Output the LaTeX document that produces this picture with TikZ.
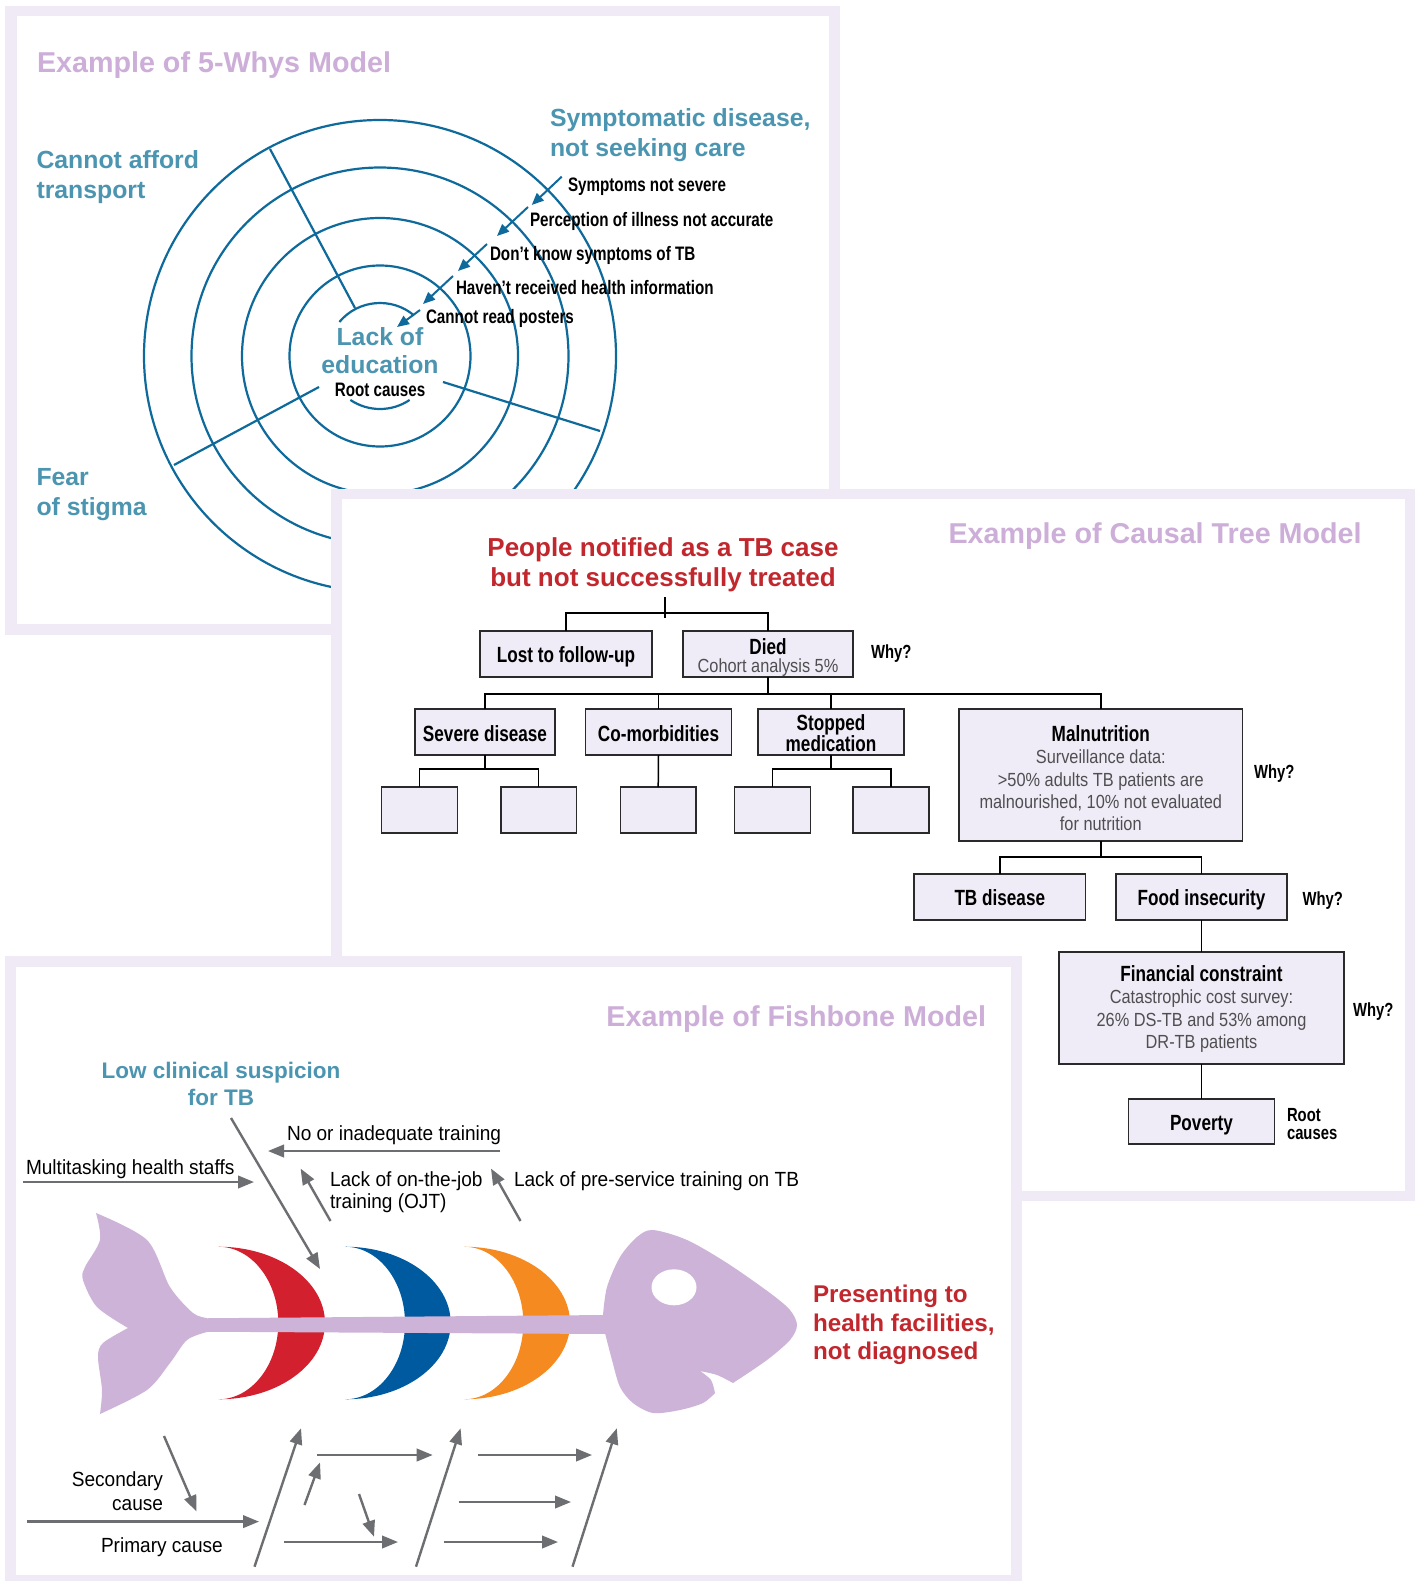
\documentclass[tikz,border=0pt]{standalone}
\usepackage{fontspec}
\setmainfont{Liberation Sans}
\newfontfamily\cnd{Liberation Sans}[FakeStretch=0.78]
\newfontfamily\cndm{Liberation Sans}[FakeStretch=0.86]
\newfontfamily\cndr{Liberation Sans}[FakeStretch=0.93]
\usetikzlibrary{arrows.meta}
\definecolor{frame}{HTML}{F0EAF6}
\definecolor{lilac}{HTML}{CDAED8}
\definecolor{tealc}{HTML}{4B95B1}
\definecolor{circc}{HTML}{0F6A9C}
\definecolor{redt}{HTML}{C1272D}
\definecolor{boxfill}{HTML}{F0ECF7}
\definecolor{boxline}{HTML}{2A2A2A}
\definecolor{greyt}{HTML}{4F4F51}
\definecolor{arrg}{HTML}{6D6E71}
\definecolor{fishc}{HTML}{CDB3D8}
\definecolor{ribr}{HTML}{D2202F}
\definecolor{ribb}{HTML}{005A9F}
\definecolor{ribo}{HTML}{F48A20}
\begin{document}
\begin{tikzpicture}[x=1pt,y=-1pt,
  every node/.style={inner sep=0pt, outer sep=0pt},
  ttl/.style={text=lilac, font=\bfseries\fontsize{28.7}{34}\selectfont},
  tealt/.style={text=tealc, font=\bfseries\fontsize{24.8}{30}\selectfont},
  redtt/.style={text=redt, font=\bfseries\fontsize{26}{31}\selectfont},
  whyl/.style={font=\cnd\bfseries\fontsize{19.5}{22}\selectfont},
  circ/.style={draw=circc, line width=2.2pt},
  warr/.style={draw=circc, line width=2pt, -{Triangle[length=12pt,width=10pt]}},
  box/.style={draw=boxline, fill=boxfill, line width=1.6pt},
  bt/.style={font=\cnd\bfseries\fontsize{22}{24}\selectfont},
  gt/.style={text=greyt, font=\cndm\fontsize{19}{22}\selectfont},
  wy/.style={font=\cnd\bfseries\fontsize{19}{22}\selectfont},
  conn/.style={draw=black, line width=1.5pt},
  garr/.style={draw=arrg, line width=2.4pt, -{Triangle[length=16pt,width=12.5pt]}},
  ft/.style={font=\cndr\fontsize{20.5}{24}\selectfont},
  fish/.style={fill=fishc}
]
\useasboundingbox (0,0) rectangle (1419,1581);
\fill[white] (0,0) rectangle (1419,1581);

% ================= Panel 1 : 5 whys =================
\fill[frame] (5,6) rectangle (840,635);
\fill[white] (17,16) rectangle (829,624);
\node[ttl, anchor=base west] (t1) at (37,72.5) {Example of 5-Whys Model};

\coordinate (cc) at (380,356);
\draw[circ] (cc) circle[radius=236];
\draw[circ] (cc) circle[radius=188.5];
\draw[circ] (cc) circle[radius=138];
\draw[circ] (cc) circle[radius=90.5];
\draw[circ] (cc) ++(-140:53) arc[start angle=-140,end angle=-50,radius=53];
\draw[circ] (cc) ++(124:53) arc[start angle=124,end angle=56,radius=53];

\coordinate (r1a) at (270,149); \coordinate (r1b) at (355,308);
\coordinate (r2a) at (174,465); \coordinate (r2b) at (319,387);
\coordinate (r3a) at (600,431); \coordinate (r3b) at (443,382);
\draw[circ] (r1a) -- (r1b);
\draw[circ] (r2a) -- (r2b);
\draw[circ] (r3a) -- (r3b);

\node[tealt, anchor=base west] (ca1) at (36.5,168) {Cannot afford};
\node[tealt, anchor=base west] (ca2) at (36.5,198) {transport};
\node[tealt, anchor=base west] (fs1) at (36.5,485) {Fear};
\node[tealt, anchor=base west] (fs2) at (36.5,515) {of stigma};
\node[tealt, anchor=base west] (sd1) at (550,126.7) {Symptomatic disease,};
\node[tealt, anchor=base west] (sd2) at (550,156.5) {not seeking care};
\node[tealt, anchor=base] (le1) at (380,345) {Lack of};
\node[tealt, anchor=base] (le2) at (380,373.5) {education};
\node[whyl, anchor=base] (rc) at (380,396) {Root causes};

\node[whyl, anchor=base west] (w1t) at (568,191.7) {Symptoms not severe};
\node[whyl, anchor=base west] (w2t) at (530,226) {Perception of illness not accurate};
\node[whyl, anchor=base west] (w3t) at (490,260.5) {Don’t know symptoms of TB};
\node[whyl, anchor=base west] (w4t) at (456,294.5) {Haven’t received health information};
\node[whyl, anchor=base west] (w5t) at (426,323) {Cannot read posters};

\coordinate (w1a) at (561.7,176.7); \coordinate (w1b) at (531.7,205);
\coordinate (w2a) at (528,207);     \coordinate (w2b) at (497,236);
\coordinate (w3a) at (487,244);     \coordinate (w3b) at (458,271);
\coordinate (w4a) at (453,276);     \coordinate (w4b) at (423,304);
\coordinate (w5a) at (420,310);     \coordinate (w5b) at (397,327);
\draw[warr] (w1a) -- (w1b);
\draw[warr] (w2a) -- (w2b);
\draw[warr] (w3a) -- (w3b);
\draw[warr] (w4a) -- (w4b);
\draw[warr] (w5a) -- (w5b);

% ================= Panel 2 : causal tree =================
\fill[frame] (331,489) rectangle (1415,1201);
\fill[white] (342,499) rectangle (1405,1191);
\node[ttl, anchor=base west] (t2) at (948.5,543.3) {Example of Causal Tree Model};
\node[redtt, anchor=base] (pn1) at (663,556) {People notified as a TB case};
\node[redtt, anchor=base] (pn2) at (663,586.7) {but not successfully treated};

\node[box, minimum width=171.7pt, minimum height=45.7pt] (lost) at (565.9,653.9) {};
\node[box, minimum width=170pt, minimum height=46pt] (died) at (768,654) {};
\node[box, minimum width=140pt, minimum height=46pt] (severe) at (485,732) {};
\node[box, minimum width=146pt, minimum height=46pt] (comorb) at (658.5,732) {};
\node[box, minimum width=146pt, minimum height=46pt] (stopped) at (831,732) {};
\node[box, minimum width=283.6pt, minimum height=132pt] (maln) at (1100.8,775) {};
\node[box, minimum width=75.8pt, minimum height=46pt] (e1) at (419.5,810) {};
\node[box, minimum width=75.8pt, minimum height=46pt] (e2) at (538.7,810) {};
\node[box, minimum width=75.8pt, minimum height=46pt] (e3) at (658.2,810) {};
\node[box, minimum width=75.8pt, minimum height=46pt] (e4) at (772.5,810) {};
\node[box, minimum width=75.8pt, minimum height=46pt] (e5) at (891,810) {};
\node[box, minimum width=171.5pt, minimum height=46pt] (tbd) at (999.8,897) {};
\node[box, minimum width=171pt, minimum height=46pt] (food) at (1201.5,897) {};
\node[box, minimum width=285pt, minimum height=112pt] (fin) at (1201.5,1008) {};
\node[box, minimum width=146pt, minimum height=45pt] (pov) at (1201.5,1121.5) {};

\coordinate (stem) at (665,597);
\draw[conn] (stem) -- ++(0,21);
\draw[conn] (lost.north) -- ++(0,-18) -| (died.north);
\draw[conn] (died.south) -- ++(0,17);
\draw[conn] (severe.north) -- ++(0,-15) -| (maln.north);
\draw[conn] (comorb.north) -- ++(0,-15);
\draw[conn] (stopped.north) -- ++(0,-15);
\draw[conn] (severe.south) -- ++(0,14);
\draw[conn] (e1.north) -- ++(0,-18) -| (e2.north);
\draw[conn] (comorb.south) -- (e3.north);
\draw[conn] (stopped.south) -- ++(0,14);
\draw[conn] (e4.north) -- ++(0,-18) -| (e5.north);
\draw[conn] (maln.south) -- ++(0,16);
\draw[conn] (tbd.north) -- ++(0,-17) -| (food.north);
\draw[conn] (food.south) -- (fin.north);
\draw[conn] (fin.south) -- (pov.north);

\node[bt, anchor=base] (lostt) at (565.9,662) {Lost to follow-up};
\node[bt, anchor=base] (diedt) at (768,654) {Died};
\node[gt, anchor=base] (diedg) at (768,672) {Cohort analysis 5\%};
\node[wy, anchor=base west] (why1) at (871,658) {Why?};
\node[bt, anchor=base] (sevt) at (485,741) {Severe disease};
\node[bt, anchor=base] (comt) at (658.5,741) {Co-morbidities};
\node[bt, anchor=base] (stt1) at (831,730) {Stopped};
\node[bt, anchor=base] (stt2) at (831,751) {medication};
\node[bt, anchor=base] (mant) at (1100.8,741) {Malnutrition};
\node[gt, anchor=base] (mang1) at (1100.8,763) {Surveillance data:};
\node[gt, anchor=base] (mang2) at (1100.8,786) {>50\% adults TB patients are};
\node[gt, anchor=base] (mang3) at (1100.8,808) {malnourished, 10\% not evaluated};
\node[gt, anchor=base] (mang4) at (1100.8,830) {for nutrition};
\node[wy, anchor=base west] (why2) at (1254,778) {Why?};
\node[bt, anchor=base] (tbdt) at (999.8,905) {TB disease};
\node[bt, anchor=base] (foodt) at (1201.5,905) {Food insecurity};
\node[wy, anchor=base west] (why3) at (1302.5,905) {Why?};
\node[bt, anchor=base] (fint) at (1201.5,981) {Financial constraint};
\node[gt, anchor=base] (fing1) at (1201.5,1003) {Catastrophic cost survey:};
\node[gt, anchor=base] (fing2) at (1201.5,1026) {26\% DS-TB and 53\% among};
\node[gt, anchor=base] (fing3) at (1201.5,1048) {DR-TB patients};
\node[wy, anchor=base west] (why4) at (1353,1016) {Why?};
\node[bt, anchor=base] (povt) at (1201.5,1130) {Poverty};
\node[wy, anchor=base west] (rc1) at (1287,1121) {Root};
\node[wy, anchor=base west] (rc2) at (1287,1139) {causes};

% ================= Panel 3 : fishbone =================
\fill[frame] (5,956) rectangle (1022,1590);
\fill[white] (16,966.5) rectangle (1011,1575);
\node[ttl, anchor=base east] (t3) at (986,1026.5) {Example of Fishbone Model};

% fish tail
\fill[fish] plot[smooth] coordinates {(207,1318) (193,1313) (170,1287) (147,1240) (96,1213)}
  -- plot[smooth] coordinates {(96,1213) (100,1240) (85,1267) (83,1280) (97,1307) (128,1328)}
  -- plot[smooth] coordinates {(128,1328) (103,1343) (98,1357) (102,1390) (100,1414)}
  -- plot[smooth] coordinates {(100,1414) (147,1390) (170,1363) (187,1340) (207,1332)}
  -- cycle;
% ribs
\fill[ribr] (218.3,1246.7) arc[start angle=-90,end angle=90,x radius=106.7,y radius=76.3]
  arc[start angle=90,end angle=-90,x radius=60,y radius=76.3] -- cycle;
\fill[ribb] (345,1246.7) arc[start angle=-90,end angle=90,x radius=105.7,y radius=76.3]
  arc[start angle=90,end angle=-90,x radius=60,y radius=76.3] -- cycle;
\fill[ribo] (464,1246.7) arc[start angle=-90,end angle=90,x radius=106,y radius=76.3]
  arc[start angle=90,end angle=-90,x radius=59.3,y radius=76.3] -- cycle;
% spine
\fill[fish] (200,1318.3) -- (608,1315) -- (608,1334) -- (200,1331.7) -- cycle;
% head
\fill[fish] plot[smooth] coordinates {(603,1315) (607,1287) (620,1257) (637,1237) (653,1230) (687,1240) (727,1263) (770,1293) (790,1310) (797,1325) (790,1340) (767,1360) (733,1383)}
  -- plot[smooth] coordinates {(733,1383) (717,1375) (700,1371)}
  -- plot[smooth] coordinates {(700,1371) (711,1380) (715,1393)}
  -- plot[smooth] coordinates {(715,1393) (703,1403) (680,1410) (653,1413) (633,1403) (620,1387) (612,1360) (605,1333)}
  -- cycle;
\fill[white] (674,1287.3) ellipse[x radius=22.5, y radius=18];

% texts
\node[tealt, font=\bfseries\fontsize{22.5}{27}\selectfont, anchor=base] (lc1) at (221,1078.8) {Low clinical suspicion};
\node[tealt, font=\bfseries\fontsize{22.5}{27}\selectfont, anchor=base] (lc2) at (221,1105.3) {for TB};
\node[ft, anchor=base west] (f1) at (287,1140.7) {No or inadequate training};
\node[ft, anchor=base west] (f2) at (26,1174.7) {Multitasking health staffs};
\node[ft, anchor=base west] (f3) at (330,1186) {Lack of on-the-job};
\node[ft, anchor=base west] (f4) at (330,1208) {training (OJT)};
\node[ft, anchor=base west] (f5) at (514,1186) {Lack of pre-service training on TB};
\node[ft, anchor=base east] (f6) at (163,1486) {Secondary};
\node[ft, anchor=base east] (f7) at (163,1510.6) {cause};
\node[ft, anchor=base west] (f8) at (101,1552) {Primary cause};
\node[redtt, font=\bfseries\fontsize{24.2}{29}\selectfont, anchor=base west] (pr1) at (813,1302.4) {Presenting to};
\node[redtt, font=\bfseries\fontsize{24.2}{29}\selectfont, anchor=base west] (pr2) at (813,1331) {health facilities,};
\node[redtt, font=\bfseries\fontsize{24.2}{29}\selectfont, anchor=base west] (pr3) at (813,1359.6) {not diagnosed};

% arrows (top)
\coordinate (a1s) at (500,1151);   \coordinate (a1e) at (268,1151);
\coordinate (a2s) at (23,1182);    \coordinate (a2e) at (254,1182);
\coordinate (a3s) at (231,1118);   \coordinate (a3e) at (320,1269);
\coordinate (a4s) at (330.5,1221); \coordinate (a4e) at (300.6,1168.6);
\coordinate (a5s) at (520.5,1221); \coordinate (a5e) at (491,1168.6);
\draw[garr] (a1s) -- (a1e);
\draw[garr] (a2s) -- (a2e);
\draw[garr] (a3s) -- (a3e);
\draw[garr] (a4s) -- (a4e);
\draw[garr] (a5s) -- (a5e);
% arrows (bottom)
\coordinate (b1s) at (164,1436);    \coordinate (b1e) at (196.5,1511.4);
\coordinate (b2s) at (27,1521.6);   \coordinate (b2e) at (259,1521.6);
\coordinate (d1s) at (254.5,1566.7);\coordinate (d1e) at (301,1428.3);
\coordinate (d2s) at (416,1566.7);  \coordinate (d2e) at (460.6,1428.3);
\coordinate (d3s) at (572.5,1566.7);\coordinate (d3e) at (616.8,1428.3);
\coordinate (h1s) at (317,1455);    \coordinate (h1e) at (432.7,1455);
\coordinate (h2s) at (478,1455);    \coordinate (h2e) at (592,1455);
\coordinate (h3s) at (458.7,1502);  \coordinate (h3e) at (571,1502);
\coordinate (h4s) at (284,1542);    \coordinate (h4e) at (398,1542);
\coordinate (h5s) at (443.7,1542);  \coordinate (h5e) at (558,1542);
\coordinate (s1s) at (304.5,1505);  \coordinate (s1e) at (320,1462.4);
\coordinate (s2s) at (359,1494);    \coordinate (s2e) at (374,1536.7);
\foreach \p in {b1,b2,d1,d2,d3,h1,h2,h3,h4,h5,s1,s2}
  \draw[garr] (\p s) -- (\p e);
\end{tikzpicture}
\end{document}
